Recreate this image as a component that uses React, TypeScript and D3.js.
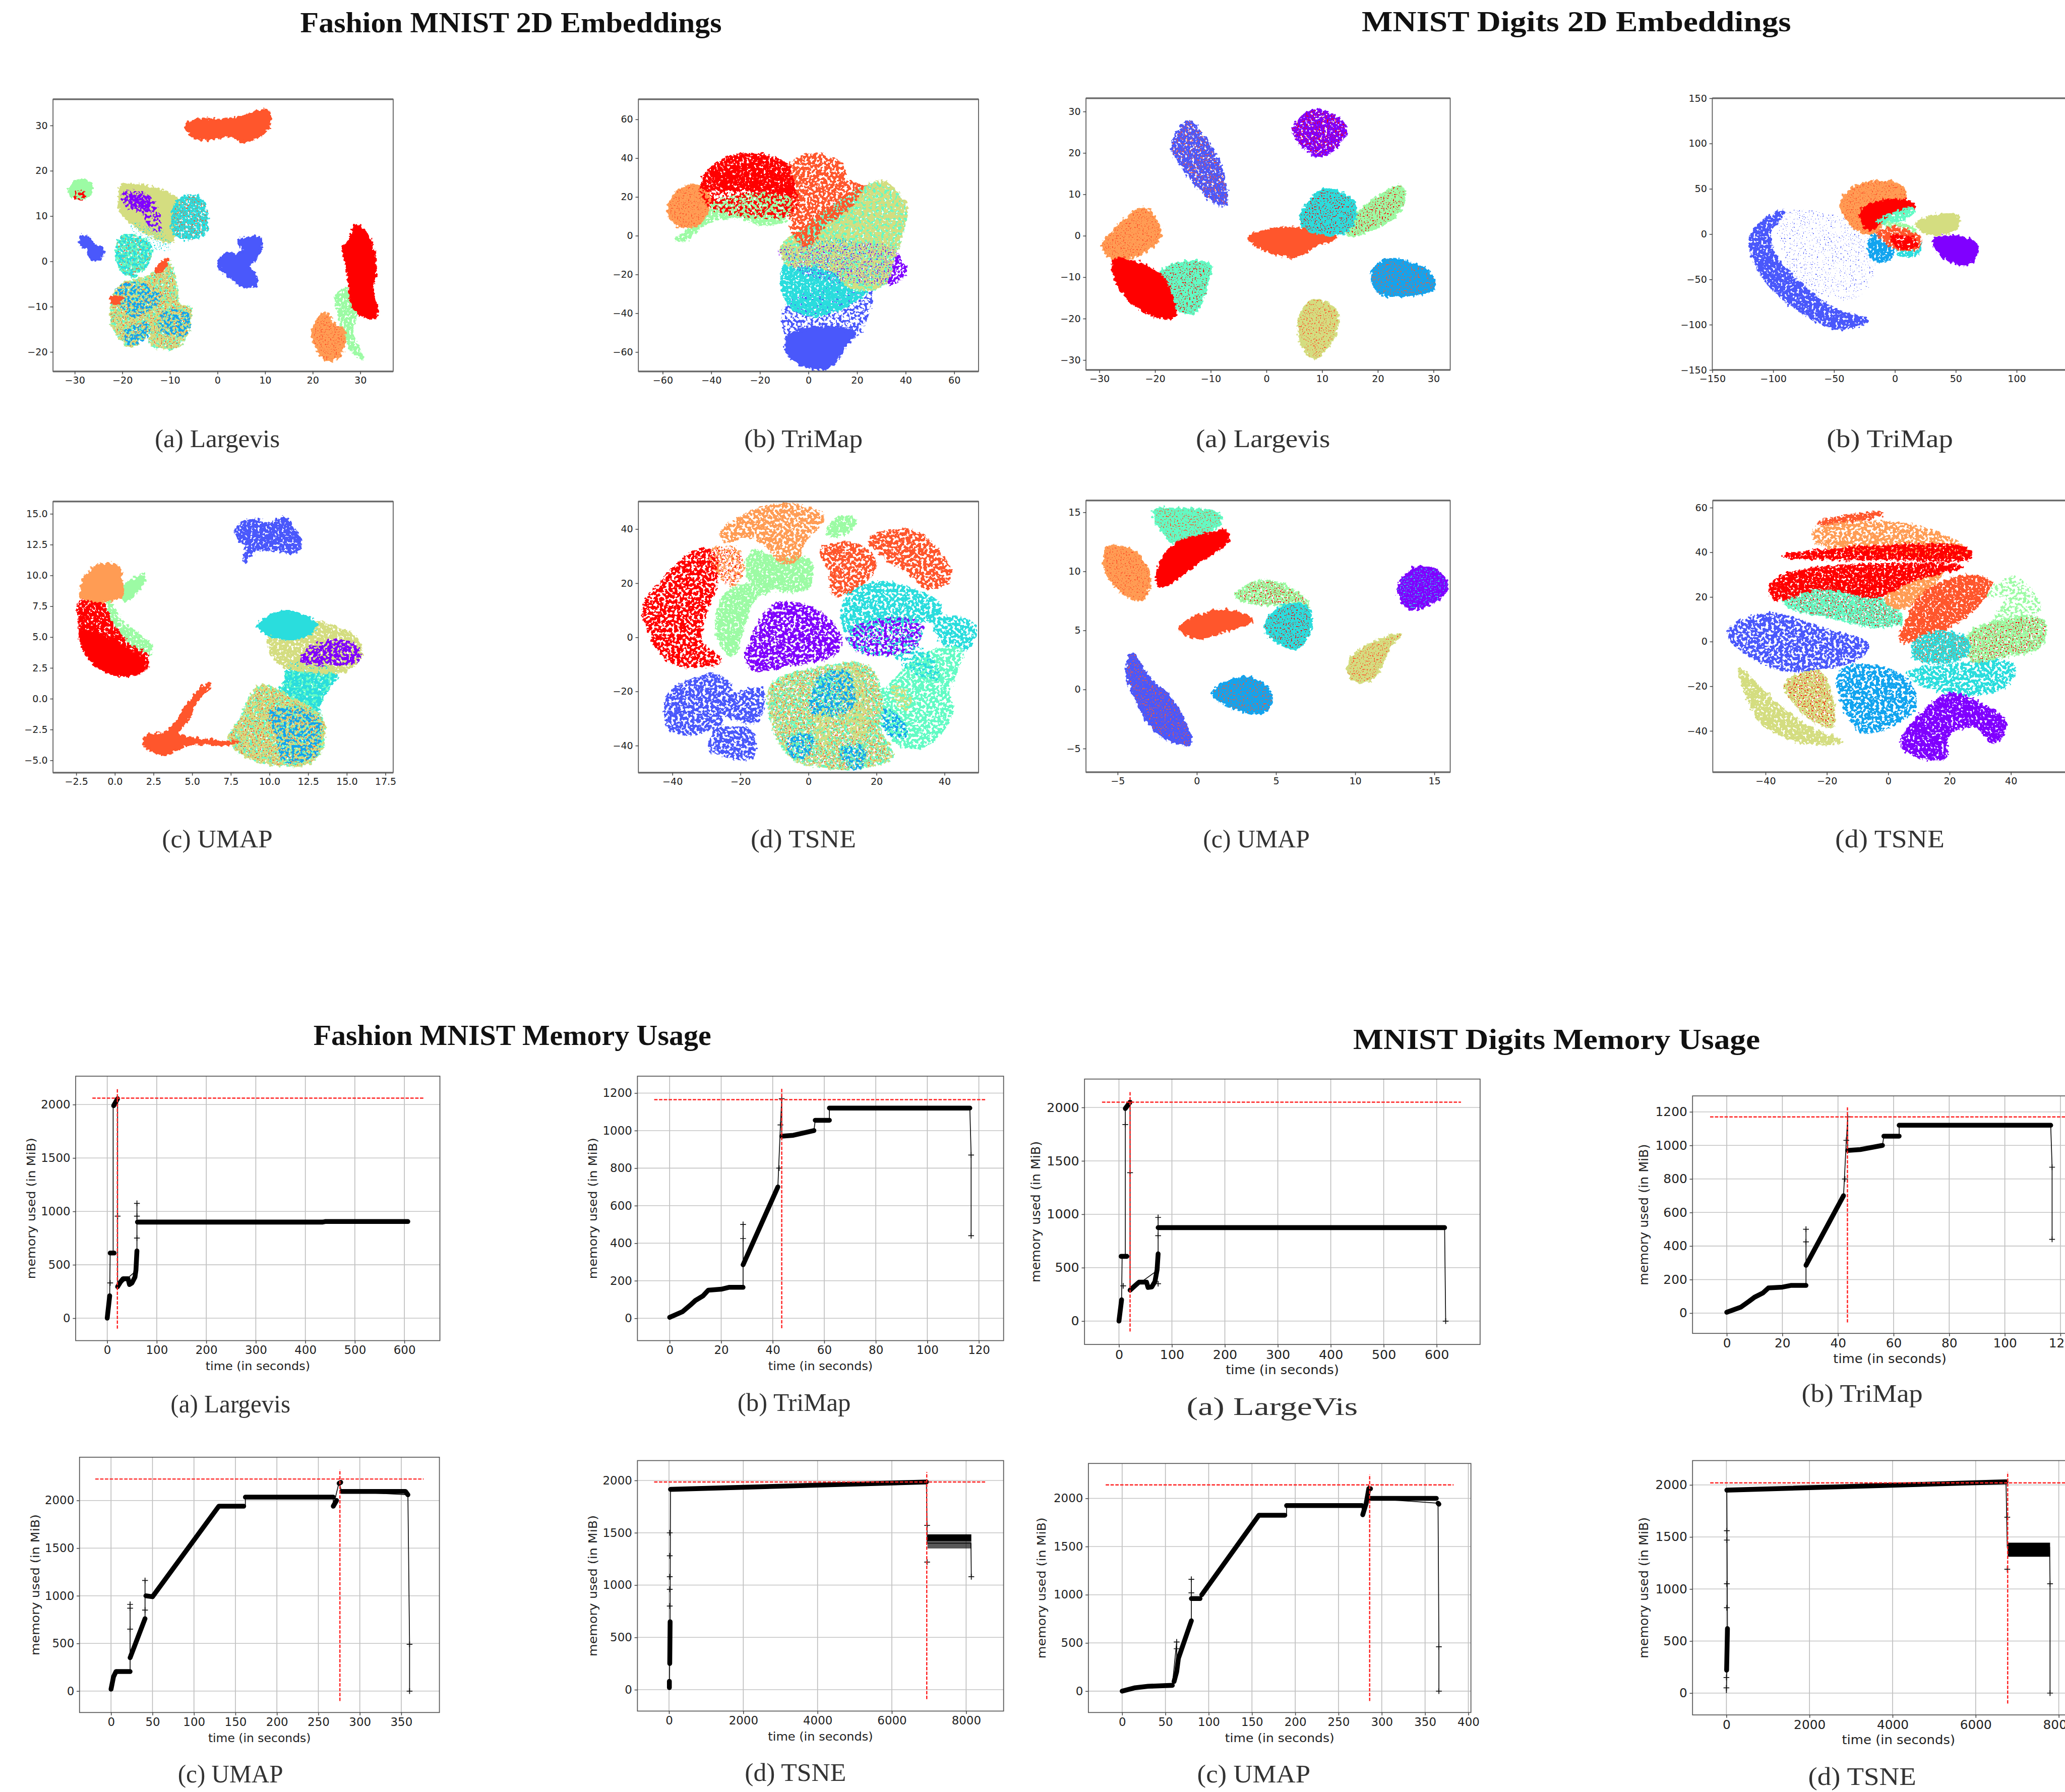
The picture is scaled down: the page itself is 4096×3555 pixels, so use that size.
import { useEffect, useRef } from 'react';
import * as d3 from 'd3';

type Pt = [number, number];
type Blob = [number, string, Pt[], number?];

// matplotlib rainbow, 10 classes
const rainbow = ['#8000ff', '#4a58fb', '#12a4ef', '#2adddd', '#62fbc4', '#9cfba4', '#d4dd80', '#ff9c54', '#ff562c', '#ff0000'];

// cluster outlines, in each panel's data units
// [class, grain, outline, speck class]
const fMid: Pt[] = [[-20.9, 4.5], [-19.7, 5.6], [-15.7, 4.9], [-14, 2.7], [-15.3, -1.2], [-18.4, -3.3], [-20.7, -0.5]];
const fLow: Pt[] = [[-10.3, -0.45], [-8.9, -4.3], [-8.2, -9.3], [-5.9, -10.4], [-6.2, -15], [-8.6, -18.9], [-13.6, -18.5], [-14.3, -15.7], [-18, -18.7], [-21.7, -15], [-22.2, -10], [-20.4, -5.4], [-14.3, -3.3]];
const fUp: Pt[] = [[-20, 16.6], [-17.7, 16.9], [-8.6, 13.7], [-8.9, 8.4], [-9.9, 4.5], [-14.3, 5.9], [-20, 10.5], [-20.6, 13.4]];
const fashionLargevis: Blob[] = [
  [8, 's', [[-6.6, 29.9], [-4.3, 31.2], [1.2, 31.2], [6, 32.2], [10.2, 33.2], [11, 30.8], [9.5, 28.2], [5.4, 26.5], [2.7, 27.8], [-2.9, 27], [-5.7, 28.1]]],
  [5, 's', [[-31, 16], [-29.5, 17.7], [-27.2, 17.6], [-26.5, 15.5], [-27.5, 14.2], [-30, 14], [-31, 15]]],
  [9, 'c', [[-30, 15], [-28, 15.5], [-28, 14], [-30, 14]]],
  [6, 's', fUp],
  [0, 'c', [[-19.7, 15.2], [-17.3, 15.5], [-14, 13.7], [-12.3, 9.1], [-12.3, 7], [-14.3, 7.7], [-15.7, 10.9], [-19.4, 12.3]]],
  [0, 'b', [[-18.7, 14.4], [-14.7, 14.1], [-14.7, 11.6], [-17.7, 12.3]]],
  [3, 'a', [[-8.6, 12.7], [-5.9, 14.6], [-3.5, 13.7], [-2.2, 7.7], [-3.5, 5.6], [-7.6, 5.2], [-9.6, 7.4]], 8],
  [3, 'd', [[-18, 8], [-12, 7], [-10, 3], [-14, 3]]],
  [1, 's', [[-28.5, 5.6], [-27, 5], [-26.2, 3.5], [-24.2, 3], [-24.6, 1], [-26, 0.3], [-27, 1.5], [-27.2, 3], [-28.5, 3.4]]],
  [4, 'a', fMid, 8],
  [3, 'c', fMid],
  [4, 'a', fLow],
  [6, 'b', fLow, 8],
  [2, 'c2', [[-21, -6], [-16, -5], [-12, -8], [-18, -12]]],
  [2, 'c2', [[-11, -11], [-6, -12], [-7, -16], [-12, -15]]],
  [2, 'c2', [[-19, -15], [-15, -14], [-15, -17], [-19, -18]]],
  [8, 's', [[-22.4, -7.9], [-20, -8.2], [-21.1, -9.3], [-22.1, -9]]],
  [8, 's', [[-13, -1.9], [-10.6, 0.6], [-10.9, -0.8], [-12.6, -2.6]]],
  [1, 's', [[4.5, 4.5], [6, 5.1], [9, 5], [9, 2.5], [7.8, 0.5], [6.5, -1], [8, -3], [8, -5], [5.5, -5.5], [3.5, -4], [1, -2], [0.3, 0], [1.5, 1.5], [4, 1.5], [5.5, 2.5]]],
  [5, 'a', [[27, -6], [28, -8], [29, -12], [28, -15], [29, -18], [30.5, -21.5], [29, -20.5], [26.5, -16], [25.5, -11], [25, -8]]],
  [9, 's', [[29, 8], [30.5, 7], [32, 4.5], [33, 1], [33, -3], [32.5, -7], [33.5, -10], [33, -12.5], [31, -12], [29, -11], [28, -8], [27.5, -3], [27, 0], [26.5, 3], [27.5, 4]]],
  [7, 's', [[22.5, -11.5], [24.5, -14], [26.5, -15], [26.5, -18], [25.5, -21], [23, -21.7], [21, -19.5], [20, -16], [20.5, -14]], 8],
];

const fbMix: Pt[] = [[-11, -6], [0, 5], [10, 15], [20, 23], [28, 27], [36, 22], [40, 13], [38, 0], [35, -10], [33, -22], [27, -27], [18, -27], [10, -18], [0, -15], [-8, -15]];
const fashionTrimap: Blob[] = [
  [1, 'c', [[-9, -36], [25, -26], [24, -42], [19, -52], [3, -50], [-8, -54]]],
  [1, 's', [[-8, -52], [3, -47.5], [19, -50], [16, -55], [10.8, -65.5], [5.4, -68.6], [-5.4, -64.5], [-9, -59]]],
  [3, 'a', [[-11, -20], [-6, -10], [15, -8], [25, -15], [26, -25], [20, -33], [12, -38], [3, -41], [-6, -38], [-10, -30]]],
  [0, 'b', [[28, -5], [33, -7], [37, -12], [40, -17], [38, -22], [33, -25], [28, -20]]],
  [4, 'a', fbMix],
  [6, 'b', fbMix],
  [2, 'd', [[-10, -8], [10, -2], [25, -8], [20, -20], [0, -18]]],
  [0, 'd', [[-12, -8], [10, -5], [36, -8], [35, -22], [0, -20]]],
  [8, 'b', [[-7, 37], [2.5, 41.8], [13.5, 37], [16, 28], [27, 24.5], [22, 20], [14, 12], [6, 5], [0, -5], [-6, 0], [-7, 10], [-8, 25]]],
  [6, 'b', [[24, 25], [30, 28], [38, 20], [40, 12], [30, 8], [20, 14]]],
  [5, 'a', [[-54, -2], [-46, 6], [-42, 14], [-30, 20], [-8, 20], [-10, 8], [-19, 6], [-28, 9], [-40, 8], [-52, -3]]],
  [7, 's', [[-57.5, 11.6], [-53, 23.7], [-43, 25], [-41, 16], [-46, 5.6], [-54, 5.6]], 8],
  [9, 'c', [[-43, 28], [-7, 28], [-6, 12], [-20, 10], [-42, 16]]],
  [9, 'a', [[-43, 30], [-35, 39], [-21.7, 41.8], [-9.5, 37], [-7, 30], [-7, 22], [-21.7, 24], [-43, 25]]],
];

const fcHead: Pt[] = [[12.1, 6.3], [15.5, 5], [15.9, 3.6], [14.9, 2.3], [11.3, 2.5], [10.4, 3.2], [10, 5.2], [11.3, 5.7]];
const fcLow: Pt[] = [[9.4, 1], [11.3, 0.1], [13.4, -1.7], [13.3, -4.2], [12.6, -5.2], [11.3, -5.4], [8.9, -4.9], [7.4, -3.3], [8.1, -1.7]];
const fcCol: Pt[] = [[11.3, 2.75], [14.3, 2.1], [13.4, 0.1], [12.6, -2.8], [11.3, -2], [10, 0.3], [10.9, 1]];
const fashionUmap: Blob[] = [
  [1, 'a', [[7.9, 13.9], [9, 14.5], [10, 14.2], [10.9, 14.7], [11.5, 13.9], [12, 12.8], [11.7, 11.9], [10.4, 12.1], [9.1, 12], [8.3, 11.1], [8.5, 12.4], [7.9, 13.1]]],
  [5, 's', [[0.4, 8.8], [1.9, 10], [1.5, 8.8], [0.6, 8]]],
  [5, 'a', [[-0.4, 7.9], [0.4, 6.3], [2.3, 4.3], [2.1, 3.6], [0.9, 4.3], [-0.4, 5.7]]],
  [9, 'a', [[-2.25, 7.8], [-1, 8], [-0.2, 6.1], [1, 4.3], [2.1, 3.4], [1.9, 2.3], [0.6, 1.9], [-1, 2.5], [-2.1, 4.3], [-2.3, 6.1]]],
  [9, 's', [[-2.2, 5.5], [-0.8, 5], [1, 3.8], [1.9, 3], [1.7, 2.3], [0.6, 1.9], [-1, 2.5], [-2.1, 4.3]]],
  [7, 's', [[-2, 9.7], [-1, 10.8], [0.2, 10.7], [0.4, 9.7], [0.4, 8.3], [-2.1, 8.2]]],
  [4, 'a', fcCol],
  [3, 'b', fcCol],
  [4, 'a', fcLow],
  [6, 'b', fcLow, 8],
  [2, 'c2', [[10, -1], [13, -1.5], [13, -4.5], [11, -5], [10.5, -3]]],
  [6, 'a', fcHead],
  [3, 's', [[9.3, 5.9], [10.4, 6.9], [12.1, 6.8], [13, 5.9], [12.1, 5], [10.4, 5]]],
  [0, 'b', [[12.6, 4.1], [14.3, 4.7], [15.7, 4.1], [15.7, 3.1], [12.1, 3.1]]],
  [8, 's', [[6.2, 1.1], [5.3, -0.15], [4.7, -1.7], [4, -2.8], [7, -3.5], [7.9, -3.5], [7, -3.7], [4.9, -3.6], [3.2, -4.5], [1.9, -3.7], [2, -3.1], [3.4, -2.7], [4.9, -0.15], [5.7, 1]]],
];

const fdLow: Pt[] = [[-10.7, -17.6], [4.4, -11.2], [17, -10.5], [21.5, -22.8], [20.8, -33.8], [24.6, -43.6], [15.2, -48.1], [2.5, -47.4], [-5, -44.2], [-10.1, -33.8]];
const fdRight: Pt[] = [[32.9, -6.6], [44.9, -4.7], [41.1, -20.9], [42.3, -27.4], [34.8, -39.7], [27.2, -39.7], [20.8, -29.3], [20.2, -22.8], [26.5, -14.4]];
const fdPurple: Pt[] = [[-17.1, -2.1], [-12, 9.6], [-7.6, 12.8], [4.4, 8.3], [9.5, -1.4], [7, -6.6], [-5, -9.9], [-15.8, -11.8], [-18.3, -7.3]];
const fdMid: Pt[] = [[11.4, -0.1], [16.4, 5], [32.9, 5], [32.2, -1.4], [28.4, -5.3], [15.2, -5.3]];
const fashionTsne: Blob[] = [
  [9, 'b', [[-48.4, 11.5], [-41.1, 23.2], [-33.5, 31.6], [-28.4, 31.6], [-27.2, 20.6], [-30.3, 8.9], [-31.6, -1.4], [-25.9, -8.6], [-34.8, -10.8], [-41.7, -7.9], [-46.8, 1.8]]],
  [5, 'a', [[-15.8, 32.3], [-10.1, 29], [0, 28.4], [0, 18.6], [-7.6, 17.4], [-11.4, 18.6], [-16.4, 20], [-18.3, 25.8]]],
  [5, 'a', [[-21.5, 18.6], [-10.1, 18.6], [-15.8, 14.1], [-19, 5], [-22.1, -6.6], [-26.5, -0.1], [-26.5, 10.2], [-24, 16]]],
  [7, 'b', [[-25.9, 38.1], [-18.3, 45.2], [-8.2, 49.1], [4.4, 44.6], [0.6, 38.1], [-1.9, 34.2], [-3.2, 29], [-8.2, 27.7], [-11.4, 32.9], [-17.7, 37.4], [-24, 35.5]]],
  [7, 'c', [[-28.4, 32.3], [-20.9, 32.3], [-19.6, 24.5], [-22.1, 19.3], [-27.2, 24.5]], 9],
  [5, 'a', [[8.8, 44.2], [13.9, 43.3], [11.4, 38.7], [5.7, 38.1]]],
  [8, 'b', [[3.8, 32.3], [13.9, 34.2], [19.6, 27.7], [15.8, 20], [7.6, 16], [6.3, 24.5]]],
  [8, 'b', [[17.7, 36.1], [29.7, 39.4], [37.9, 32.3], [41.7, 21.9], [35.4, 18], [30.3, 23.2], [24, 28.4]]],
  [3, 'b', [[10.7, 14.1], [17, 19.3], [23.4, 20], [38.5, 12.2], [37.9, 6.3], [32.2, 6.3], [20.2, 5], [11.4, 2.4]]],
  [3, 'b', [[37.3, 5], [42.3, 7.6], [49, 3.7], [45.5, -5.3], [39.2, -1.4]]],
  [4, 'b', fdRight],
  [3, 'c2', [[24, -3], [34, -5], [38, -15], [30, -12]]],
  [2, 'c', [[21.5, -26.7], [27.2, -30.6], [28.4, -35.8], [24.6, -36.4], [21.5, -31.2]]],
  [6, 'c', [[24.6, -18.3], [29.7, -20.9], [29, -26], [25.9, -24]]],
  [6, 'b', fdPurple],
  [0, 'b', fdPurple],
  [6, 'c', fdMid],
  [3, 'c', fdMid],
  [0, 'c2', fdMid],
  [1, 'b', [[-41.1, -20.9], [-36.7, -17], [-27.8, -14.1], [-22.8, -18.3], [-24, -21.5], [-13.9, -19], [-13.3, -24.1], [-15.8, -31.2], [-25.3, -29.3], [-25.3, -33.2], [-17.1, -34.5], [-16.1, -43.6], [-18.3, -44.9], [-29.1, -41], [-27.8, -33.8], [-34.8, -35.8], [-41.1, -33.2]]],
  [4, 'b', fdLow],
  [6, 'c', fdLow, 8],
  [6, 'c2', [[8.8, -11.2], [13.9, -11.8], [17, -33.8], [15.2, -39], [12.6, -33.8]]],
  [6, 'c2', [[3.2, -27.4], [6.3, -27.4], [5, -40.3], [3.2, -39]]],
  [2, 'c', [[3.8, -14.4], [11.4, -13.1], [12.6, -26], [1.3, -27.4]]],
  [2, 'c', [[-5.7, -37.7], [1.3, -36.4], [0, -42.9], [-5, -43.6]]],
  [2, 'c', [[9.5, -41.6], [15.8, -40.3], [15.8, -46.8], [13.3, -48.8]]],
];

const mnistLargevis: Blob[] = [
  [0, 'a', [[4.9, 26], [8.8, 30.3], [13.5, 27.4], [14.1, 24.5], [10.5, 19.6], [7.6, 20.3]], 9],
  [1, 'a', [[-14.1, 27.5], [-10.8, 23.1], [-7.8, 14.7], [-7.5, 7.6], [-10.2, 9], [-15.5, 17.5], [-16.9, 21], [-16.1, 24.5]], 8],
  [7, 's', [[-22, 6.6], [-19.7, 3.4], [-19.1, 0], [-22.6, -4.4], [-28, -5], [-29.3, -2.3], [-27.3, 1.3]], 8],
  [4, 's', [[-18.8, -8.6], [-13.1, -6.3], [-10.2, -7.2], [-10.8, -12.1], [-13.1, -18.5], [-16.7, -17], [-18.8, -12.1]], 9],
  [9, 's', [[-27.3, -5.8], [-22, -7.2], [-18.4, -10.7], [-16.6, -19.5], [-19.6, -19.5], [-24.4, -15.7], [-27, -10.7]]],
  [8, 's', [[-3.1, -0.5], [1.7, 1.6], [7.6, 1.3], [12.3, -0.5], [8.8, -2.3], [5.2, -5], [-0.7, -3]]],
  [5, 's', [[14.7, 2], [17, 6.2], [24.1, 11.8], [24.7, 8.3], [22.4, 4.1], [17, 0.6], [14.7, 0.2]], 9],
  [3, 's', [[6.4, 5.5], [10.5, 11.1], [15.9, 7.6], [14.7, 1.3], [9.9, 0.6], [6.4, 2.7]], 9],
  [2, 's', [[21.8, -5.8], [28.9, -8.6], [30.1, -12.5], [20.6, -14], [19, -10.7], [19.4, -7.9]], 8],
  [6, 's', [[8.2, -15.7], [12.3, -17.8], [12.5, -22.7], [8.8, -29.4], [6.4, -26.2], [6, -19.9]], 8],
];

const mnistTrimap: Blob[] = [
  [1, 'e', [[-92, 20], [-39, 14], [-17, -25], [-33, -70], [-82, -47]]],
  [1, 'a', [[-103, 19], [-91, 25], [-103, 1], [-98, -25], [-76, -57], [-49, -84], [-23, -95], [-27, -99], [-47, -104], [-76, -86], [-103, -57], [-117, -22], [-117, 1]]],
  [7, 's', [[-44, 33], [-35, 50], [-15, 58], [3, 54], [9, 42], [-5, 20], [-20, 0], [-35, 10]], 8],
  [9, 's', [[-28, 23.5], [-11, 36], [13, 35], [16, 30], [-6, 20], [-17, 7], [-23, 7]]],
  [4, 'a', [[-14, 14], [13, 28], [16, 25], [-6, 11]]],
  [5, 'a', [[-6, 11], [16, 5], [16, -8], [-6, 5]]],
  [6, 's', [[18, 11], [32, 20], [51, 19], [51, 7], [27, 1]]],
  [2, 'a', [[-19, -2], [-3, -12], [-3, -25], [-14, -30], [-21, -22]]],
  [3, 'a', [[2, -15], [21, -10], [18, -22], [5, -23]]],
  [8, 'a', [[-14, 1], [0, 7], [21, -5], [18, -15], [0, -15]]],
  [9, 'a', [[-3, -4], [13, -4], [18, -12], [5, -15]]],
  [0, 's', [[32, -5.5], [62, -7], [68, -18], [59, -33], [40, -25]]],
];

const mnistUmap: Blob[] = [
  [4, 's', [[-2.66, 15.2], [-1.29, 15.3], [1.4, 14.8], [1.4, 14], [0, 13.1], [-1.29, 12.4], [-2.1, 13.3], [-2.66, 14.5]], 8],
  [9, 's', [[1.8, 13.4], [2, 12.8], [0, 10.7], [-2.3, 8.8], [-2.5, 9.8], [-1.5, 12.1], [0.8, 13.2]]],
  [7, 's', [[-5.65, 12], [-4.2, 11.8], [-3, 9.8], [-3.4, 7.7], [-4.6, 8.1], [-5.75, 10.2]], 8],
  [5, 'a', [[2.45, 7.9], [4.1, 9.2], [5.8, 8.6], [7, 7.4], [7, 6.7], [5.4, 7.2], [3.7, 7.3]], 9],
  [3, 's', [[5.4, 7], [7, 6.9], [7, 4.6], [6.2, 3.5], [4.95, 4.2], [4.3, 5.3]], 9],
  [8, 's', [[-1.1, 5.2], [1.6, 6.7], [3.5, 5.8], [1.6, 4.9], [0, 4.4]]],
  [0, 's', [[12.7, 8.4], [13.7, 10.2], [15.1, 10.1], [15.8, 8.7], [14.9, 7.4], [13.5, 6.9]], 3],
  [6, 's', [[12.85, 4.63], [12.2, 3.7], [11.8, 2.5], [11.2, 1.1], [10.35, 0.65], [9.65, 1.24], [9.7, 2.5], [10.8, 3.7]], 8],
  [2, 's', [[1, -0.3], [3.3, 1], [4.7, -0.5], [4.3, -1.8], [2.5, -1.6]], 8],
  [1, 's', [[-4.1, 3], [-3, 0.9], [-1.5, -1], [-0.45, -4.6], [-2.5, -3.6], [-4.4, 1.4]], 8],
];

const mnistTsne: Blob[] = [
  [8, 'a', [[-22.6, 53.3], [-2, 57.6], [-2, 57], [-21.5, 52.7]]],
  [7, 'b', [[-23.7, 50], [4.3, 52.7], [21.5, 45], [26.9, 39], [0, 40], [-23.7, 45]]],
  [9, 'a', [[-34, 38.4], [0, 42.8], [25.8, 41.5], [26.9, 37.8], [0, 37.2], [-21.5, 37.2]]],
  [4, 'a', [[-35.5, 22.9], [-23.7, 26.6], [-2.2, 19.2], [4.3, 9.3], [-2.2, 6.8], [-21.5, 11.8], [-32.3, 15.5]], 9],
  [7, 'a', [[12.9, 30.4], [18.3, 32.8], [8.6, 18], [3.2, 14.9], [-1, 19.2], [8.6, 26.6]]],
  [9, 'a', [[-38.7, 24], [-32.3, 30.4], [12.9, 34.7], [23.7, 33.5], [8.6, 27.9], [-4.3, 20.4], [-21.5, 24], [-36.6, 19.2]]],
  [8, 'a', [[6.5, 10.5], [10.8, 20.4], [23.7, 29], [33.3, 26.6], [30, 18], [21.5, 8], [4.3, 0.6]]],
  [5, 'a', [[25.8, 1.9], [36.6, 9.3], [50.5, 9.3], [49.5, -1.9], [36.6, -6.8], [28, -9.3]], 9],
  [5, 'c', [[32.3, 20.4], [40.9, 28.5], [49.5, 15.5], [43, 10.5], [34.4, 8], [38.7, 20.4]]],
  [3, 'a', [[8.6, -0.6], [17.2, 4.3], [25.8, 0.6], [25.8, -5.6], [17.2, -9.3], [8.6, -6.8]], 8],
  [3, 'b', [[6.5, -14.2], [21.5, -10.5], [40.9, -10.5], [38.7, -19.2], [28, -23.5], [12.9, -20.4]]],
  [1, 'b', [[-51.6, 5.6], [-38.7, 12.4], [-21.5, 5.6], [-6.5, -1.9], [-10.8, -8], [-32.3, -13], [-40.9, -9.3], [-51.2, 0.6]]],
  [2, 'b', [[-16, -14.2], [-8.6, -10.5], [6.5, -18], [8.6, -29], [2.2, -36.6], [-8.6, -40], [-15, -26.6]]],
  [6, 'a', [[-33.3, -19.2], [-22.6, -13.6], [-18.3, -26.6], [-18.3, -37.8], [-28, -31.6]], 9],
  [6, 'a', [[-48.4, -12.4], [-36.6, -27.9], [-23.7, -40], [-15, -44.6], [-28, -45.2], [-40.9, -36.6], [-45.2, -26.6]]],
  [0, 'a', [[4.3, -45.2], [10.8, -32.8], [20.4, -23.5], [32.3, -29.7], [38.3, -36.6], [34.4, -45.2], [28, -37.8], [19.4, -41.5], [18.3, -52], [8.6, -50.8]]],
];

// memory traces: thick = runs of overlapping markers, thin = the line, plus = lone markers
const faThick: Pt[][] = [[[0, 0], [5, 210]], [[6, 610], [14, 610]], [[13, 1990], [21, 2055]], [[21, 295], [27, 340], [32, 370], [42, 370], [45, 315], [50, 330], [56, 385], [58, 450], [60, 630]], [[61, 900], [435, 900], [440, 905], [607, 905]]];
const faThin: Pt[] = [[0, 0], [5, 210], [6, 610], [12, 610], [12, 1990], [21, 2055], [21, 295], [60, 450], [60, 1075], [60, 900]];
const faPlus: Pt[] = [[6, 330], [21, 955], [60, 1075], [60, 955], [60, 750]];

const bThick: Pt[][] = [[[0, 5], [5, 35], [8, 70], [10, 95], [13, 120], [15, 150], [20, 155], [23, 165], [28.5, 165]], [[28.5, 285], [42, 700]], [[43.5, 970], [48, 975], [56, 1000]], [[56.5, 1055], [62, 1055]], [[62, 1120], [116.5, 1120]]];
const bThin: Pt[] = [[28.5, 165], [28.5, 500], [28.5, 285], [42, 700], [43, 1030], [43.5, 1170], [43.5, 970], [56, 1000], [56.5, 1055], [62, 1055], [62, 1120], [116.5, 1120], [117, 870], [117, 440]];
const bPlus: Pt[] = [[28.5, 500], [28.5, 425], [42.5, 800], [43, 1030], [43.5, 1170], [117, 870], [117, 440]];

const fcThick: Pt[][] = [[[0, 20], [3, 150], [6, 205], [23, 205]], [[23, 350], [41, 760]], [[42, 1000], [50, 990], [130, 1940], [160, 1940]], [[162, 2035], [268, 2035]], [[268, 1940], [272, 2000]], [[275, 2180], [277, 2190]], [[278, 2095], [355, 2095], [358, 2060]]];
const fcThin: Pt[] = [[23, 205], [23, 910], [23, 350], [41, 760], [41, 1160], [41, 1000], [50, 990], [130, 1940], [162, 1940], [162, 2035], [268, 2035], [268, 1940], [275, 2190], [278, 2095], [358, 2060], [360, 490], [360, 0]];
const fcPlus: Pt[] = [[23, 910], [23, 870], [23, 650], [41, 1160], [41, 850], [360, 490], [360, 0]];

const fdThick: Pt[][] = [[[10, 20], [10, 80]], [[20, 250], [30, 650]], [[40, 1915], [6930, 1985]]];
const fdThin: Pt[] = [[10, 0], [30, 650], [40, 1915], [6930, 1985], [6950, 1500], [6950, 1400], [8130, 1400], [8140, 1080]];
const fdPlus: Pt[] = [[20, 1500], [20, 1280], [20, 1080], [20, 960], [20, 800], [6950, 1220], [6950, 1570], [8140, 1080]];
const fdBand: number[][] = [[6960, 8140, 1420, 1485, 1], [6960, 8140, 1350, 1420, 0.65]];

const maThick: Pt[][] = [[[0, 0], [5, 200]], [[4, 606], [15, 606]], [[12, 1990], [21, 2050]], [[21, 290], [30, 330], [38, 365], [52, 365], [55, 315], [62, 320], [68, 370], [72, 480], [74, 630]], [[74, 875], [615, 875]]];
const maThin: Pt[] = [[0, 0], [5, 200], [6, 606], [12, 606], [12, 1990], [21, 2050], [21, 290], [74, 480], [74, 970], [74, 875], [615, 875], [617, 0]];
const maPlus: Pt[] = [[74, 970], [74, 800], [74, 350], [12, 1840], [21, 1390], [8, 330], [617, 0]];

const mcThick: Pt[][] = [[[0, 0], [15, 35], [30, 50], [58, 60]], [[60, 100], [63, 200], [65, 340], [80, 730]], [[80, 960], [90, 960]], [[92, 1000], [158, 1825], [188, 1825]], [[190, 1925], [277, 1925]], [[278, 1830], [282, 1950], [285, 2100], [287, 2100]], [[285, 2000], [363, 2000]], [[365, 1950], [366, 1940]]];
const mcThin: Pt[] = [[58, 60], [63, 510], [63, 340], [80, 730], [80, 1160], [80, 960], [90, 960], [158, 1825], [190, 1825], [190, 1925], [277, 1925], [278, 1830], [285, 2140], [285, 2000], [365, 1950], [366, 460], [366, 0]];
const mcPlus: Pt[] = [[63, 510], [63, 440], [80, 1160], [80, 1020], [366, 460], [366, 0]];

const mdThick: Pt[][] = [[[5, 220], [25, 620]], [[10, 1950], [6730, 2030]]];
const mdThin: Pt[] = [[0, 0], [25, 620], [10, 1950], [6730, 2030], [6760, 1400], [7780, 1400], [7790, 1050], [7790, 0]];
const mdPlus: Pt[] = [[0, 50], [0, 150], [10, 1470], [10, 1050], [10, 820], [10, 1560], [6760, 1690], [6760, 1190], [7790, 1050], [7790, 0]];
const mdBand: number[][] = [[6770, 7790, 1310, 1445, 1]];

const scatterTicks = {
  fa: [[-30, -20, -10, 0, 10, 20, 30], [-20, -10, 0, 10, 20, 30]],
  fb: [[-60, -40, -20, 0, 20, 40, 60], [-60, -40, -20, 0, 20, 40, 60]],
  fc: [[-2.5, 0, 2.5, 5, 7.5, 10, 12.5, 15, 17.5], [-5, -2.5, 0, 2.5, 5, 7.5, 10, 12.5, 15]],
  fd: [[-40, -20, 0, 20, 40], [-40, -20, 0, 20, 40]],
  ma: [[-30, -20, -10, 0, 10, 20, 30], [-30, -20, -10, 0, 10, 20, 30]],
  mb: [[-150, -100, -50, 0, 50, 100], [-150, -100, -50, 0, 50, 100, 150]],
  mc: [[-5, 0, 5, 10, 15], [-5, 0, 5, 10, 15]],
  md: [[-40, -20, 0, 20, 40], [-40, -20, 0, 20, 40, 60]],
};

const tick0 = [0, 500, 1000, 1500, 2000];
const tick1 = [0, 200, 400, 600, 800, 1000, 1200];
const tick60 = [0, 100, 200, 300, 400, 500, 600];
const tick120 = [0, 20, 40, 60, 80, 100, 120];
const tick8k = [0, 2000, 4000, 6000, 8000];

// frame is [left, top, right, bottom] in reference pixels
const scatterPanels = [
  { frame: [110, 206, 816, 771], xd: [-34.56, 36.9], yd: [-24.3, 35.8], t: scatterTicks.fa, blobs: fashionLargevis },
  { frame: [1325, 206, 2031, 771], xd: [-70, 70], yd: [-70, 70.4], t: scatterTicks.fb, blobs: fashionTrimap },
  { frame: [110, 1041, 816, 1604], xd: [-4, 18], yd: [-6, 16], t: scatterTicks.fc, blobs: fashionUmap, dec: true },
  { frame: [1325, 1041, 2031, 1604], xd: [-50, 50], yd: [-50, 50.2], t: scatterTicks.fd, blobs: fashionTsne },
  { frame: [2254, 204, 3010, 768], xd: [-32.4, 33], yd: [-32.4, 33.2], t: scatterTicks.ma, blobs: mnistLargevis },
  { frame: [3554, 204, 4312, 768], xd: [-150, 150], yd: [-150, 150], t: scatterTicks.mb, blobs: mnistTrimap },
  { frame: [2254, 1039, 3010, 1603], xd: [-7, 16], yd: [-7, 16], t: scatterTicks.mc, blobs: mnistUmap },
  { frame: [3555, 1039, 4312, 1603], xd: [-57.2, 61.7], yd: [-58.5, 63.2], t: scatterTicks.md, blobs: mnistTsne },
];

const memPanels = [
  { frame: [157, 2234, 913, 2783], xd: [-63.7, 671.7], yd: [-210, 2266], xt: tick60, yt: tick0, thick: faThick, thin: faThin, plus: faPlus, rh: [2060, -30, 640], rv: [20.5, -98, 2150], fs: 24, lab: 92, xw: 217 },
  { frame: [1323, 2234, 2083, 2783], xd: [-12.5, 129.6], yd: [-119, 1290], xt: tick120, yt: tick1, thick: bThick, thin: bThin, plus: bPlus, rh: [1165, -6, 123], rv: [43.5, -53, 1224], fs: 24, lab: 92, xw: 217 },
  { frame: [165, 3025, 912, 3555], xd: [-38, 396], yd: [-225, 2454], xt: [0, 50, 100, 150, 200, 250, 300, 350], yt: tick0, thick: fcThick, thin: fcThin, plus: fcPlus, rh: [2225, -19, 377], rv: [276, -104, 2324], fs: 24, lab: 91, xw: 213 },
  { frame: [1323, 3032, 2083, 3552], xd: [-850, 9009], yd: [-204, 2190], xt: tick8k, yt: tick0, thick: fdThick, thin: fdThin, plus: fdPlus, band: fdBand, rh: [1985, -400, 8550], rv: [6940, -90, 2080], fs: 24, lab: 92, xw: 218 },
  { frame: [2251, 2240, 3072, 2791], xd: [-65, 682], yd: [-219, 2266], xt: tick60, yt: tick0, thick: maThick, thin: maThin, plus: maPlus, rh: [2050, -32, 646], rv: [21, -98, 2155], fs: 26.5, lab: 100, xw: 235 },
  { frame: [3513, 2275, 4332, 2768], xd: [-12.3, 129.6], yd: [-121, 1295], xt: tick120, yt: tick1, thick: bThick, thin: bThin, plus: bPlus, rh: [1170, -6, 123], rv: [43.4, -56, 1227], fs: 26, lab: 100, xw: 235 },
  { frame: [2259, 3038, 3053, 3555], xd: [-39, 403], yd: [-222, 2362], xt: [0, 50, 100, 150, 200, 250, 300, 350, 400], yt: tick0, thick: mcThick, thin: mcThin, plus: mcPlus, rh: [2140, -19, 383], rv: [286, -103, 2248], fs: 24, lab: 97, xw: 227 },
  { frame: [3513, 3032, 4368, 3560], xd: [-815, 9100], yd: [-210, 2234], xt: tick8k, yt: tick0, thick: mdThick, thin: mdThin, plus: mdPlus, band: mdBand, rh: [2020, -390, 9100], rv: [6770, -100, 2124], fs: 26, lab: 100, xw: 235 },
];

// [text, centre x, centre y, width] in overview pixels of the 1568 wide picture
const titles: [string, number, number, number][] = [
  ['Fashion MNIST 2D Embeddings', 388, 18, 320],
  ['MNIST Digits 2D Embeddings', 1197, 17, 326],
  ['Fashion MNIST Memory Usage', 389, 787, 302],
  ['MNIST Digits Memory Usage', 1182, 790, 309],
];
const captions: [string, number, number, number][] = [
  ['(a) Largevis', 165, 334, 95], ['(b) TriMap', 610, 334, 90], ['(c) UMAP', 165, 638, 84], ['(d) TSNE', 610, 638, 80],
  ['(a) Largevis', 959, 334, 102], ['(b) TriMap', 1435, 334, 96], ['(c) UMAP', 954, 638, 81], ['(d) TSNE', 1435, 638, 83],
  ['(a) Largevis', 175, 1067, 91], ['(b) TriMap', 603, 1066, 86], ['(c) UMAP', 175, 1348, 80], ['(d) TSNE', 604, 1347, 77],
  ['(a) LargeVis', 966, 1069, 130], ['(b) TriMap', 1414, 1059, 92], ['(c) UMAP', 952, 1348, 86], ['(d) TSNE', 1414, 1350, 82],
];
const overviewScale = 4286 / 1568;

// grain filters: edge roughening plus noise holes, so a filled outline reads as dense points
// [id, cut, seed, noise frequency]
const grains: [string, number, number, number][] = [['a', 0.34, 3, 0.2], ['b', 0.42, 5, 0.17], ['c', 0.5, 7, 0.17], ['c2', 0.5, 11, 0.17], ['d', 0.62, 13, 0.35], ['e', 0.68, 17, 0.35]];

function addFilters(defs: any) {
  const rough = (f: any) => {
    f.append('feTurbulence').attr('type', 'fractalNoise').attr('baseFrequency', 0.14).attr('numOctaves', 2).attr('seed', 2).attr('result', 'n');
    f.append('feDisplacementMap').attr('in', 'SourceGraphic').attr('in2', 'n').attr('scale', 14).attr('xChannelSelector', 'R').attr('yChannelSelector', 'G').attr('result', 'shape');
  };
  const region = (id: string) => defs.append('filter').attr('id', id).attr('x', '-15%').attr('y', '-15%').attr('width', '130%').attr('height', '130%').attr('color-interpolation-filters', 'sRGB');
  rough(region('g-s'));
  grains.forEach(([id, cut, seed, freq]) => {
    const f = region(`g-${id}`);
    rough(f);
    f.append('feTurbulence').attr('type', 'fractalNoise').attr('baseFrequency', freq).attr('numOctaves', 2).attr('seed', seed).attr('result', 'g');
    f.append('feColorMatrix').attr('in', 'g').attr('type', 'matrix').attr('values', `0 0 0 0 0 0 0 0 0 0 0 0 0 0 0 22 0 0 0 ${-22 * cut}`).attr('result', 'mask');
    f.append('feComposite').attr('in', 'shape').attr('in2', 'mask').attr('operator', 'in');
  });
}

function frameAndAxes(g: any, p: any, x: any, y: any, xt: number[], yt: number[], fs: number, fmt: any) {
  const ax = g.append('g').attr('transform', `translate(0,${p.frame[3]})`).call(d3.axisBottom(x).tickValues(xt).tickSize(6).tickPadding(5).tickFormat(fmt));
  const ay = g.append('g').attr('transform', `translate(${p.frame[0]},0)`).call(d3.axisLeft(y).tickValues(yt).tickSize(6).tickPadding(5).tickFormat(fmt));
  [ax, ay].forEach((a) => {
    a.select('.domain').remove();
    a.selectAll('text').attr('font-family', 'DejaVu Sans').attr('font-size', fs).attr('fill', '#222');
    a.selectAll('line').attr('stroke', '#444').attr('stroke-width', 1.6);
  });
}

function drawScatter(svg: any, p: any) {
  const [l, t, r, b] = p.frame;
  const x = d3.scaleLinear().domain(p.xd).range([l, r]);
  const y = d3.scaleLinear().domain(p.yd).range([b, t]);
  const g = svg.append('g');
  const outline = d3.line<Pt>().x((d) => x(d[0])).y((d) => y(d[1])).curve(d3.curveCatmullRomClosed);
  (p.blobs as Blob[]).forEach(([c, grain, pts, speck]) => {
    g.append('path').attr('d', outline(pts)).attr('fill', rainbow[c]).attr('stroke', rainbow[c]).attr('stroke-width', 6).attr('stroke-linejoin', 'round').attr('filter', `url(#g-${grain})`);
    if (speck !== undefined) g.append('path').attr('d', outline(pts)).attr('fill', rainbow[speck]).attr('filter', 'url(#g-d)');
  });
  g.append('rect').attr('x', l).attr('y', t).attr('width', r - l).attr('height', b - t).attr('fill', 'none').attr('stroke', '#555').attr('stroke-width', 1.8);
  [t, b].forEach((v) => g.append('line').attr('x1', l).attr('x2', r).attr('y1', v).attr('y2', v).attr('stroke', '#666').attr('stroke-width', 3.5));
  frameAndAxes(g, p, x, y, p.t[0], p.t[1], 20, p.dec ? d3.format('.1f') : d3.format('d'));
}

function drawMemory(svg: any, p: any) {
  const [l, t, r, b] = p.frame;
  const x = d3.scaleLinear().domain(p.xd).range([l, r]);
  const y = d3.scaleLinear().domain(p.yd).range([b, t]);
  const g = svg.append('g');
  p.xt.forEach((v: number) => g.append('line').attr('x1', x(v)).attr('x2', x(v)).attr('y1', t).attr('y2', b).attr('stroke', '#b8b8b8').attr('stroke-width', 1.6));
  p.yt.forEach((v: number) => g.append('line').attr('x1', l).attr('x2', r).attr('y1', y(v)).attr('y2', y(v)).attr('stroke', '#c4c4c4').attr('stroke-width', 1.6));
  const line = d3.line<Pt>().x((d) => x(d[0])).y((d) => y(d[1]));
  g.append('path').attr('d', line(p.thin)).attr('fill', 'none').attr('stroke', '#111').attr('stroke-width', 1.8);
  (p.band || []).forEach(([t0, t1, lo, hi, op]: number[]) => {
    g.append('rect').attr('x', x(t0)).attr('width', x(t1) - x(t0)).attr('y', y(hi)).attr('height', y(lo) - y(hi)).attr('fill', '#000').attr('opacity', op);
  });
  p.thick.forEach((run: Pt[]) => {
    g.append('path').attr('d', line(run)).attr('fill', 'none').attr('stroke', '#000').attr('stroke-width', 10).attr('stroke-linecap', 'round').attr('stroke-linejoin', 'round');
  });
  p.plus.forEach((d: Pt) => {
    g.append('path').attr('transform', `translate(${x(d[0])},${y(d[1])})`).attr('d', 'M-6,0H6M0,-6V6').attr('stroke', '#111').attr('stroke-width', 1.8);
  });
  const dash = (a: Pt, c: Pt) => g.append('line').attr('x1', x(a[0])).attr('y1', y(a[1])).attr('x2', x(c[0])).attr('y2', y(c[1])).attr('stroke', '#f22').attr('stroke-width', 2.6).attr('stroke-dasharray', '7 3');
  dash([p.rh[1], p.rh[0]], [p.rh[2], p.rh[0]]);
  dash([p.rv[0], p.rv[1]], [p.rv[0], p.rv[2]]);
  g.append('rect').attr('x', l).attr('y', t).attr('width', r - l).attr('height', b - t).attr('fill', 'none').attr('stroke', '#555').attr('stroke-width', 1.8);
  frameAndAxes(g, p, x, y, p.xt, p.yt, p.fs, d3.format('d'));
  g.append('text').attr('x', (l + r) / 2).attr('y', b + 61).attr('text-anchor', 'middle').attr('font-family', 'DejaVu Sans').attr('font-size', p.fs).attr('fill', '#222')
    .attr('textLength', p.xw).attr('lengthAdjust', 'spacingAndGlyphs').text('time (in seconds)');
  g.append('text').attr('transform', `translate(${l - p.lab + 8},${(t + b) / 2}) rotate(-90)`).attr('text-anchor', 'middle').attr('font-family', 'DejaVu Sans').attr('font-size', p.fs).attr('fill', '#222')
    .attr('textLength', 293).attr('lengthAdjust', 'spacingAndGlyphs').text('memory used (in MiB)');
}

export default function App() {
  const ref = useRef<SVGSVGElement>(null);

  useEffect(() => {
    const svg = d3.select(ref.current);
    svg.selectAll('*').remove();
    addFilters(svg.append('defs'));
    svg.append('rect').attr('width', 4286).attr('height', 3720).attr('fill', '#fff');
    scatterPanels.forEach((p) => drawScatter(svg, p));
    memPanels.forEach((p) => drawMemory(svg, p));
    titles.forEach(([s, cx, cy, w]) => {
      svg.append('text').attr('x', cx * overviewScale).attr('y', cy * overviewScale + 18).attr('text-anchor', 'middle').attr('font-family', 'Liberation Serif').attr('font-weight', 'bold')
        .attr('font-size', 60).attr('fill', '#111').attr('textLength', w * overviewScale).attr('lengthAdjust', 'spacingAndGlyphs').text(s);
    });
    captions.forEach(([s, cx, cy, w]) => {
      svg.append('text').attr('x', cx * overviewScale).attr('y', cy * overviewScale + 15).attr('text-anchor', 'middle').attr('font-family', 'Liberation Serif')
        .attr('font-size', 54).attr('fill', '#333').attr('textLength', w * overviewScale).attr('lengthAdjust', 'spacingAndGlyphs').text(s);
    });
  }, []);

  return <svg ref={ref} width={4096} height={3555} viewBox="0 0 4286 3720" style={{ position: 'absolute', left: 0, top: 0, display: 'block' }} />;
}
